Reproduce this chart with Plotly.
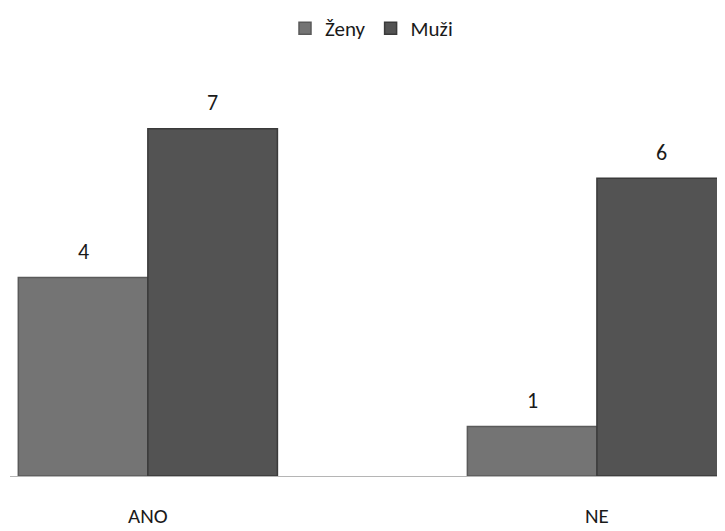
import plotly.graph_objects as go

# data
categories = ['ANO', 'NE']
zeny = [4, 1]
muzi = [7, 6]
series_names = ['Ženy', 'Muži']

FONT = "Carlito, Lato, 'Open Sans', sans-serif"

fig = go.Figure()
fig.add_trace(go.Bar(
    name=series_names[0], x=categories, y=zeny,
    marker=dict(color='#747474', line=dict(color='#5a5a5a', width=1.5)),
))
fig.add_trace(go.Bar(
    name=series_names[1], x=categories, y=muzi,
    marker=dict(color='#535353', line=dict(color='#3a3a3a', width=1.5)),
))

# value labels above each bar (group offset = half a bar width)
bargap = 0.423
half = (1 - bargap) / 4
annotations = []
for i, (z, m) in enumerate(zip(zeny, muzi)):
    annotations.append(dict(x=i - half, y=z, text=str(z), showarrow=False,
                            yshift=26, font=dict(size=22, color='#1a1a1a', family=FONT)))
    annotations.append(dict(x=i + half, y=m, text=str(m), showarrow=False,
                            yshift=26, font=dict(size=22, color='#1a1a1a', family=FONT)))

fig.update_layout(
    width=725, height=531,
    margin=dict(l=2, r=0, t=71, b=63),
    paper_bgcolor='white', plot_bgcolor='white',
    barmode='group', bargap=bargap, bargroupgap=0,
    font=dict(family=FONT, size=22, color='#1a1a1a'),
    showlegend=True,
    legend=dict(orientation='h', x=0.5, xanchor='center', yref='container',
                y=1.0, yanchor='top', font=dict(size=21), itemwidth=30,
                traceorder='normal'),
    annotations=annotations,
)
fig.update_xaxes(range=[-0.307, 1.303], showline=True, linecolor='#b5b5b5',
                 linewidth=1, ticks='', showgrid=False, ticklabelstandoff=21,
                 tickfont=dict(size=21))
fig.update_yaxes(range=[0, 8], visible=False, showgrid=False)

fig.write_html("out.html")
